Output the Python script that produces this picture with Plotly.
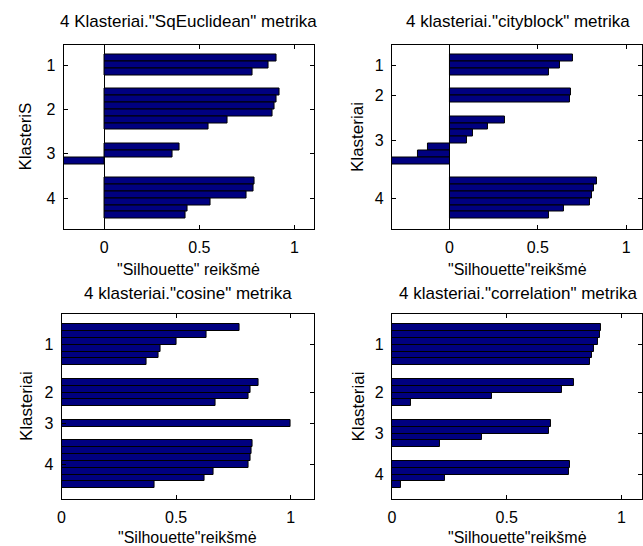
import plotly.graph_objects as go

# ---- data (silhouette values, sorted descending within each cluster) ----
cluster_labels = ["1", "2", "3", "4"]

sqeuclidean = [
    [0.905, 0.865, 0.78],
    [0.92, 0.905, 0.895, 0.885, 0.65, 0.55],
    [0.395, 0.36, -0.214],
    [0.79, 0.785, 0.75, 0.56, 0.435, 0.425],
]
cityblock = [
    [0.70, 0.625, 0.565],
    [0.69, 0.68],
    [0.315, 0.215, 0.13, 0.10, -0.12, -0.18, -0.326],
    [0.835, 0.82, 0.805, 0.795, 0.648, 0.565],
]
cosine = [
    [0.775, 0.635, 0.50, 0.43, 0.423, 0.37],
    [0.86, 0.825, 0.815, 0.67],
    [1.0],
    [0.832, 0.828, 0.824, 0.814, 0.662, 0.626, 0.404],
]
correlation = [
    [0.912, 0.905, 0.896, 0.88, 0.872, 0.862],
    [0.793, 0.743, 0.438, 0.083],
    [0.691, 0.684, 0.391, 0.209],
    [0.778, 0.772, 0.232, 0.039],
]

titles = [
    '4 Klasteriai."SqEuclidean" metrika',
    '4 klasteriai."cityblock" metrika',
    '4 klasteriai."cosine" metrika',
    '4 klasteriai."correlation" metrika',
]
xlabels = ['"Silhouette" reikšmė', '"Silhouette"reikšmė',
           '"Silhouette"reikšmė', '"Silhouette"reikšmė']
ylabels = ["KlasteriS", "Klasteriai", "Klasteriai", "Klasteriai"]
x_ticks = [0, 0.5, 1]
x_tick_text = ["0", "0.5", "1"]

datasets = [sqeuclidean, cityblock, cosine, correlation]

# ---- layout geometry (pixels of a 643x546 page) ----
W, H = 643, 546
boxes = [  # (left, right, top, bottom) in px
    (60, 312, 44.5, 229),
    (391, 643, 44.5, 229),
    (58, 312, 314, 498.5),
    (391, 643, 314, 498.5),
]
xmax = [1.1, 1.09, 1.1, 1.09]

BAR = "#000080"
FONT = "Liberation Sans"

fig = go.Figure()
layout = dict(
    width=W, height=H, margin=dict(l=0, r=0, t=0, b=0),
    paper_bgcolor="white", plot_bgcolor="white", showlegend=False,
    bargap=0, font=dict(family=FONT, color="black", size=15),
)
annotations = []

for i, data in enumerate(datasets):
    space = 2
    pos = []
    vals = []
    ticks = []
    cur = space
    for grp in data:
        start = cur + 1
        for v in grp:
            cur += 1
            pos.append(cur)
            vals.append(v)
        ticks.append((start + cur) / 2)
        cur += space
    L = cur
    allv = [v for g in data for v in g]
    xmin = min(0, min(allv))
    ax = "" if i == 0 else str(i + 1)
    fig.add_trace(go.Bar(
        x=vals, y=pos, orientation="h", width=1,
        marker=dict(color=BAR, line=dict(color="black", width=1)),
        xaxis="x" + ax, yaxis="y" + ax, hoverinfo="x+y",
    ))
    l, r, t, b = boxes[i]
    layout["xaxis" + ax] = dict(
        domain=[l / W, r / W], range=[xmin, xmax[i]], anchor="y" + ax,
        tickvals=x_ticks, ticktext=x_tick_text, ticks="inside", ticklen=4,
        tickcolor="black", showline=True, linecolor="black", linewidth=1,
        mirror="ticks", showgrid=False, zeroline=(xmin < 0),
        zerolinecolor="black", zerolinewidth=1, ticklabelstandoff=4,
        tickfont=dict(size=16, family=FONT, color="black"),
    )
    layout["yaxis" + ax] = dict(
        domain=[1 - b / H, 1 - t / H], range=[L, 1], anchor="x" + ax,
        tickvals=ticks, ticktext=cluster_labels, ticks="inside", ticklen=4,
        tickcolor="black", showline=True, linecolor="black", linewidth=1,
        mirror="ticks", showgrid=False, zeroline=False, ticklabelstandoff=4,
        tickfont=dict(size=16, family=FONT, color="black"),
    )
    cx = (l + (645 if r == 643 else r)) / 2
    ty = 22 if t < 100 else 293
    xl_y = 269 if t < 100 else 537
    yl_x = 22 if l < 100 else 357
    annotations.append(dict(text=titles[i], x=cx / W, y=1 - ty / H,
                            xref="paper", yref="paper", showarrow=False,
                            xanchor="center", yanchor="middle",
                            font=dict(size=17, family=FONT, color="black")))
    annotations.append(dict(text=xlabels[i], x=cx / W, y=1 - xl_y / H,
                            xref="paper", yref="paper", showarrow=False,
                            xanchor="center", yanchor="middle",
                            font=dict(size=16, family=FONT, color="black")))
    annotations.append(dict(text=ylabels[i], x=yl_x / W, y=1 - (t + b) / 2 / H,
                            xref="paper", yref="paper", showarrow=False,
                            textangle=-90, xanchor="center", yanchor="middle",
                            font=dict(size=17, family=FONT, color="black")))

layout["annotations"] = annotations
fig.update_layout(**layout)
fig.write_html(
    "out.html",
    config={"displayModeBar": False},
    post_script="document.body.style.margin='0';document.body.style.overflow='hidden';",
)
